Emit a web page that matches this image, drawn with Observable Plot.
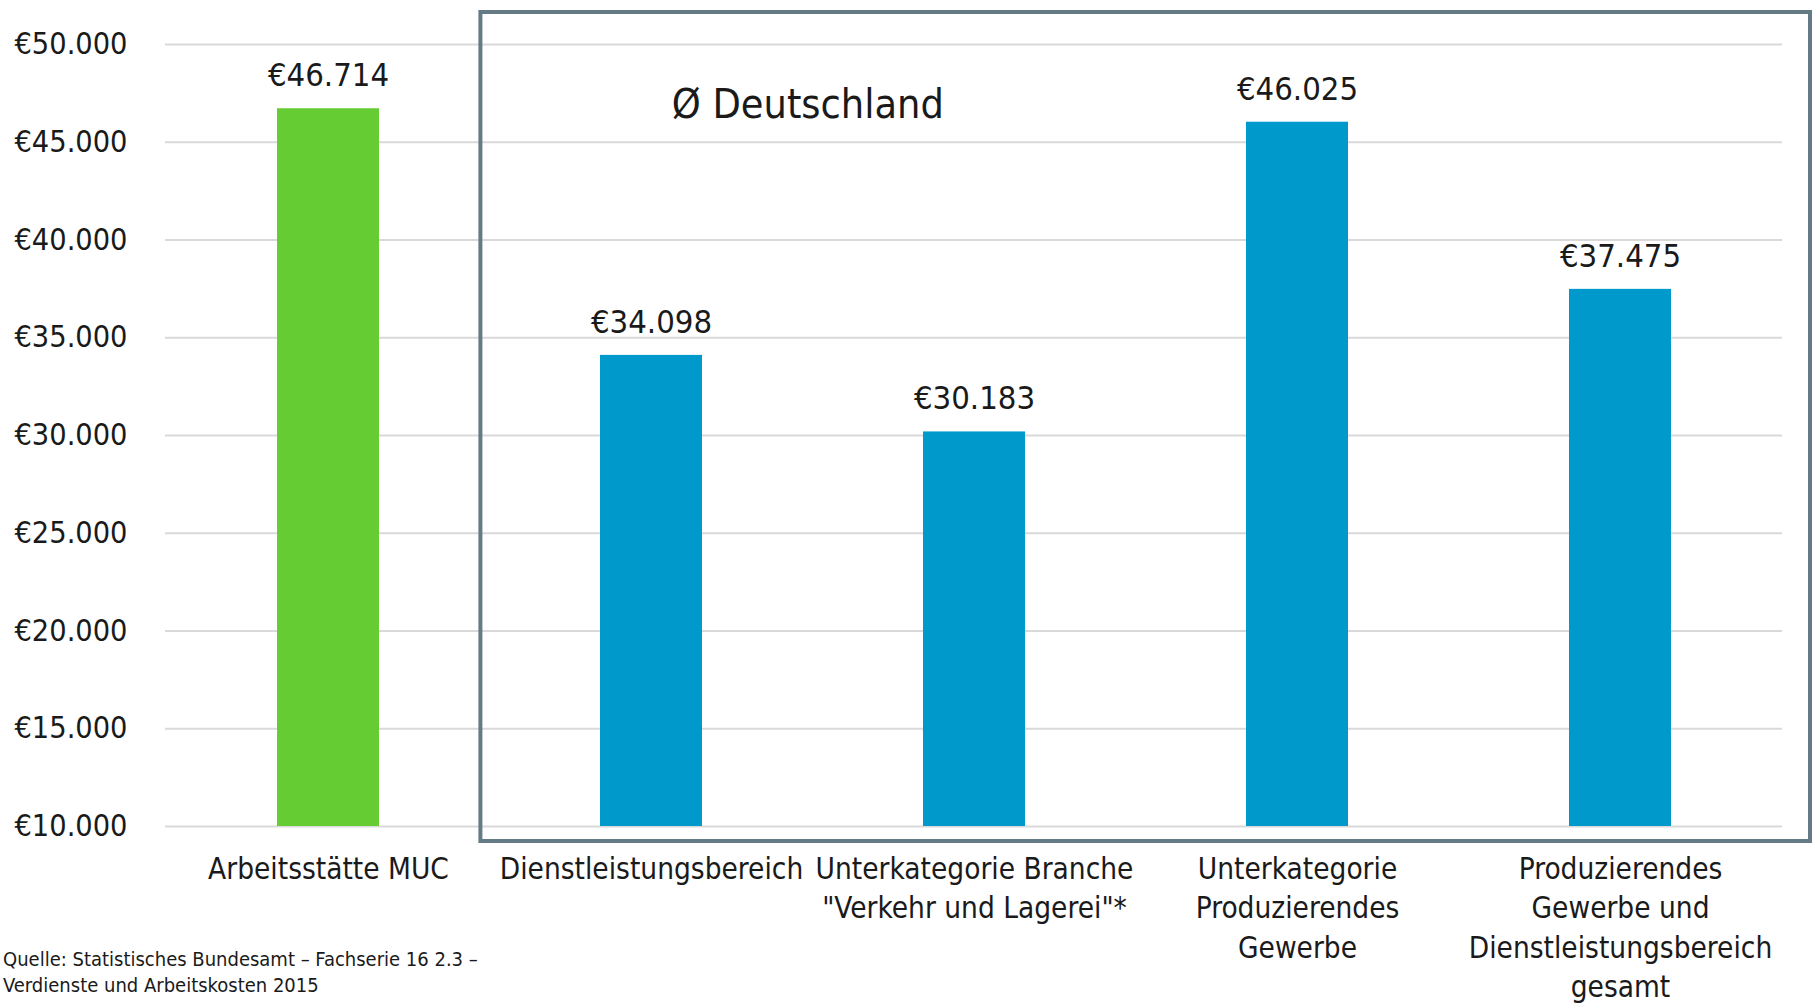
<!DOCTYPE html>
<html><head><meta charset="utf-8">
<script src="https://cdn.jsdelivr.net/npm/d3@7"></script>
<script src="https://cdn.jsdelivr.net/npm/@observablehq/plot@0.6"></script>
<style>
html,body{margin:0;padding:0;background:#fff;}
#wrap{position:relative;width:1814px;height:1006px;overflow:hidden;}
#caption{position:absolute;left:3px;top:946px;font-family:"DejaVu Sans Condensed","Liberation Sans Narrow",Roboto,sans-serif;font-size:20px;line-height:26px;color:#1a1a1a;}
</style></head><body>
<div id="wrap"><div id="caption">Quelle: Statistisches Bundesamt – Fachserie 16 2.3 –<br>Verdienste und Arbeitskosten 2015</div></div>
<script>
const categories = [
  "Arbeitsstätte MUC",
  "Dienstleistungsbereich",
  "Unterkategorie Branche\n\"Verkehr und Lagerei\"*",
  "Unterkategorie\nProduzierendes\nGewerbe",
  "Produzierendes\nGewerbe und\nDienstleistungsbereich\ngesamt"
];
const values = [46714, 34098, 30183, 46025, 37475];
const groups = ["MUC", "Deutschland", "Deutschland", "Deutschland", "Deutschland"];
const groupColors = ["#66cc33", "#0099cc"];
const yTicks = [10000, 15000, 20000, 25000, 30000, 35000, 40000, 45000, 50000];
const groupTitle = "Ø Deutschland";

const FONT = '"DejaVu Sans Condensed","Liberation Sans Narrow",Roboto,sans-serif';
const fmt = d => "€" + d3.format(",")(d).replace(/,/g, ".");
const data = categories.map((c, i) => ({cat: c, value: values[i], group: groups[i]}));
const yDomain = [yTicks[0], yTicks[yTicks.length - 1]];

const W = 1814, H = 1006, ML = 165, MR = 32, MT = 44, MB = 180;
const pad = 0.685;

const chart = Plot.plot({
  width: W, height: H,
  marginLeft: ML, marginRight: MR, marginTop: MT, marginBottom: MB,
  style: {fontFamily: FONT, fontSize: "30.4px", color: "#1a1a1a", background: "transparent"},
  x: {domain: categories, axis: null, paddingInner: pad, paddingOuter: pad / 2},
  y: {domain: yDomain, ticks: yTicks, tickFormat: fmt, tickSize: 0, tickPadding: 38, label: null},
  color: {domain: ["MUC", "Deutschland"], range: groupColors},
  marks: [
    Plot.ruleY(yTicks, {stroke: "#d9d9d9", strokeWidth: 2}),
    Plot.barY(data, {x: "cat", y1: yDomain[0], y2: "value", fill: "group"}),
    Plot.text(data, {x: "cat", y: "value", text: d => fmt(d.value), dy: -33, fontSize: 32.6, fill: "#1a1a1a"}),
    Plot.text(data, {x: "cat", text: "cat", frameAnchor: "bottom", lineAnchor: "top", dy: 24, fontSize: 29.5, lineHeight: 1.34, fill: "#1a1a1a"})
  ]
});
chart.style.position = "absolute";
chart.style.left = "0px";
chart.style.top = "0px";
document.getElementById("wrap").prepend(chart);

// group frame and title, positioned from the plot's scales
const xs = chart.scale("x");
const r0 = xs.range[0], r1 = xs.range[1];
const step = (r1 - r0) / categories.length;
const ys = chart.scale("y");
const yScale = d3.scaleLinear().domain(ys.domain).range(ys.range);
const svg = d3.select(chart.tagName.toLowerCase() === "svg" ? chart : chart.querySelector("svg"));
const boxLeft = r0 + step * 1 - 8;
const boxRight = W - 4;
const boxTop = yScale(yDomain[1]) - 32;
const boxBottom = yScale(yDomain[0]) + 15;
svg.append("rect")
  .attr("x", boxLeft).attr("y", boxTop)
  .attr("width", boxRight - boxLeft).attr("height", boxBottom - boxTop)
  .attr("fill", "none").attr("stroke", "#647b86").attr("stroke-width", 4);
svg.append("text")
  .attr("x", r0 + step * 2 - 4).attr("y", yScale(yDomain[1]) + 74)
  .attr("text-anchor", "middle")
  .attr("font-size", 41).attr("fill", "#1a1a1a")
  .text(groupTitle);
</script>
</body></html>
